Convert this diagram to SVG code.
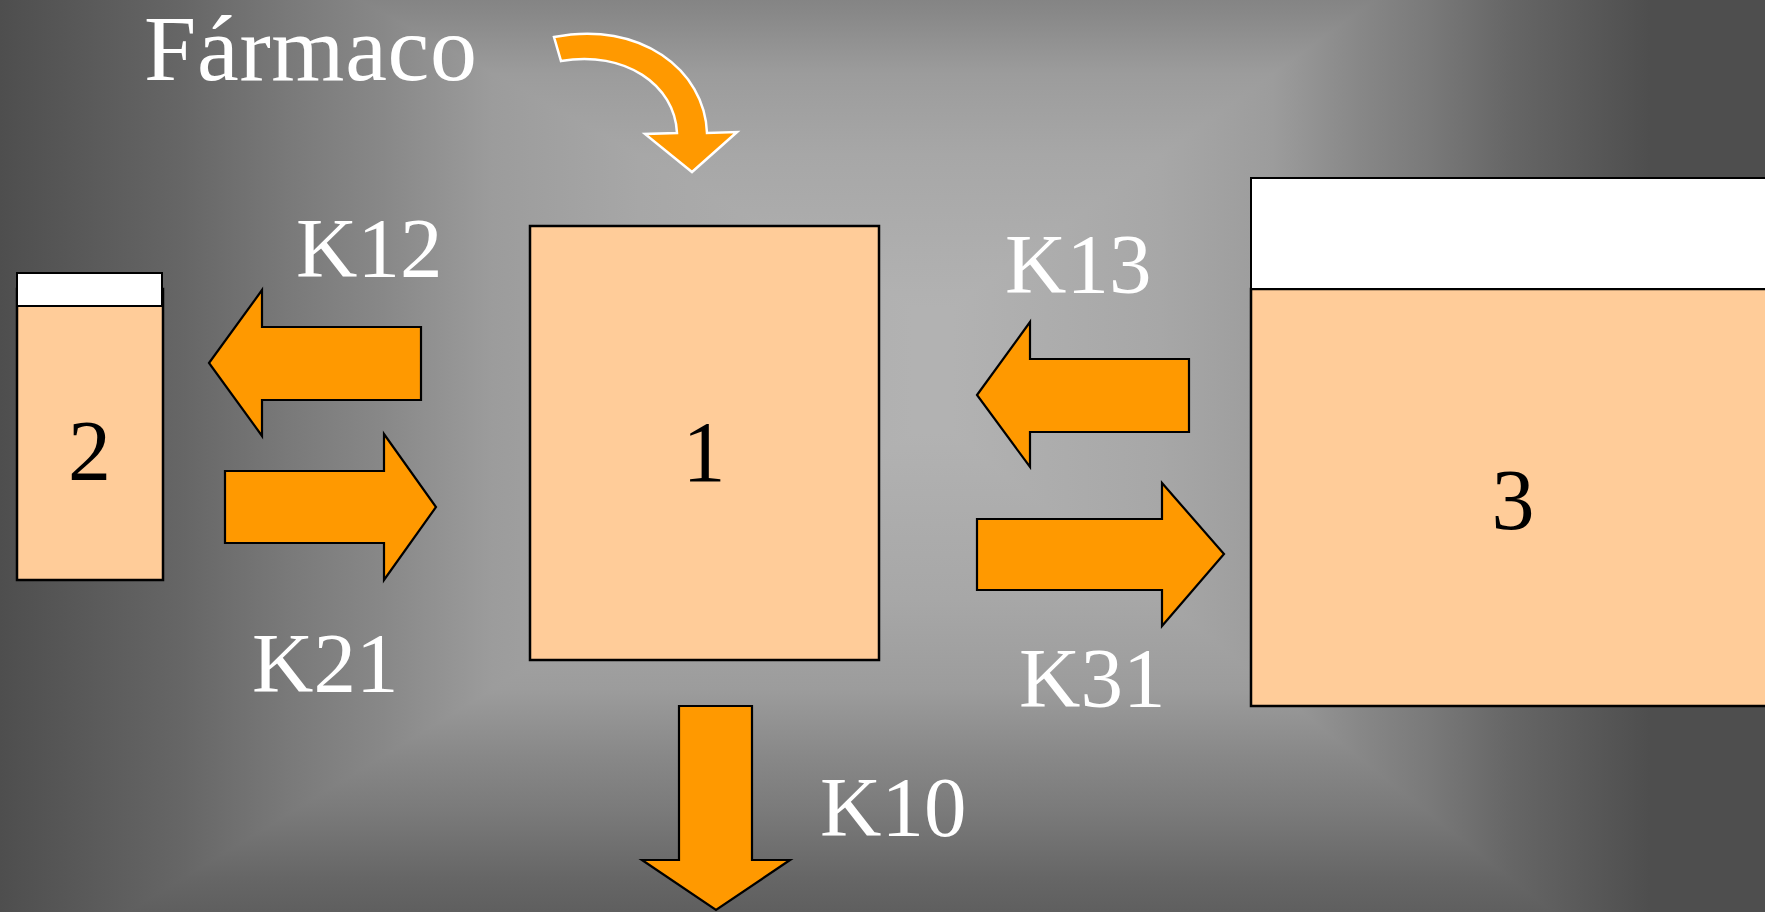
<svg xmlns="http://www.w3.org/2000/svg" xmlns:xlink="http://www.w3.org/1999/xlink" width="1765" height="912" viewBox="0 0 1765 912">
  <defs>
    <style>
      .comp { fill: #FFCC99; stroke: #000; stroke-width: 2.5; }
      .head { fill: #FFFFFF; stroke: #000; stroke-width: 2; }
      .flow { fill: #FF9900; stroke: #000; stroke-width: 2.2; stroke-linejoin: miter; }
      .dose { fill: #FF9900; stroke: #FFFFFF; stroke-width: 2.5; stroke-linejoin: miter; }
      .rate { font-family: "Liberation Serif", "Times New Roman", serif; font-size: 85px; fill: #FFFFFF; }
      .title { font-family: "Liberation Serif", "Times New Roman", serif; font-size: 94px; fill: #FFFFFF; }
      .num { font-family: "Liberation Serif", "Times New Roman", serif; font-size: 86px; fill: #000; text-anchor: middle; }
      .bg { shape-rendering: crispEdges; }
    </style>
    <!-- rectangular "from centre" background: one ramp per side, bright core to dark rim -->
    <linearGradient id="gLeft" gradientUnits="userSpaceOnUse" x1="913" y1="0" x2="0" y2="0">
      <stop offset="0" stop-color="#B2B2B2"/>
      <stop offset="0.3" stop-color="#A7A7A7"/>
      <stop offset="0.46" stop-color="#9C9C9C"/>
      <stop offset="0.58" stop-color="#888888"/>
      <stop offset="0.68" stop-color="#7A7A7A"/>
      <stop offset="0.8" stop-color="#666666"/>
      <stop offset="0.9" stop-color="#5A5A5A"/>
      <stop offset="1" stop-color="#4E4E4E"/>
    </linearGradient>
    <linearGradient id="gRight" xlink:href="#gLeft" gradientUnits="userSpaceOnUse" x1="952" y1="0" x2="1650" y2="0"/>
    <linearGradient id="gTop" xlink:href="#gLeft" gradientUnits="userSpaceOnUse" x1="0" y1="307" x2="0" y2="-200"/>
    <linearGradient id="gBottom" xlink:href="#gLeft" gradientUnits="userSpaceOnUse" x1="0" y1="433" x2="0" y2="990"/>
  </defs>

  <!-- background -->
  <g id="background">
    <rect x="0" y="0" width="1765" height="912" fill="#7A7A7A"/>
    <polygon class="bg" points="-913,-707 2348,-707 952,307 913,307" fill="url(#gTop)"/>
    <polygon class="bg" points="2348,-707 2348,1547 952,433 952,307" fill="url(#gRight)"/>
    <polygon class="bg" points="2348,1547 -913,1547 913,433 952,433" fill="url(#gBottom)"/>
    <polygon class="bg" points="-913,1547 -913,-707 913,307 913,433" fill="url(#gLeft)"/>
    <rect class="bg" x="913" y="307" width="39" height="126" fill="#B2B2B2"/>
  </g>

  <!-- dose label -->
  <g id="dose-label">
    <text class="title" x="144" y="80" textLength="333" lengthAdjust="spacing">Fármaco</text>
  </g>

  <!-- compartment 1 (central) -->
  <g id="compartment-1">
    <rect class="comp" x="530" y="226" width="349" height="434"/>
    <text class="num" x="704" y="481">1</text>
  </g>

  <!-- compartment 2 (peripheral, small) -->
  <g id="compartment-2">
    <rect class="comp" x="17" y="289" width="146" height="291"/>
    <rect class="head" x="17" y="273" width="145" height="33"/>
    <text class="num" x="89.5" y="480">2</text>
  </g>

  <!-- compartment 3 (peripheral, large) -->
  <g id="compartment-3">
    <rect class="comp" x="1251" y="289" width="600" height="417"/>
    <rect class="head" x="1251" y="178" width="600" height="111"/>
    <text class="num" x="1513" y="529">3</text>
  </g>

  <!-- transfer arrows -->
  <g id="connectors">
    <path id="dose-arrow" class="dose" d="M554,37 C640,20 705,70 707,133 L737,132 L692,172 L645,134 L677,133 C675,85 625,50 561,61 Z"/>
    <polygon id="k12-arrow" class="flow" points="209,363 262,290 262,327 421,327 421,400 262,400 262,436"/>
    <polygon id="k21-arrow" class="flow" points="225,471 384,471 384,434 436,507 384,580 384,543 225,543"/>
    <polygon id="k13-arrow" class="flow" points="977,395 1030,322 1030,359 1189,359 1189,432 1030,432 1030,467"/>
    <polygon id="k31-arrow" class="flow" points="977,519 1162,519 1162,483 1224,554 1162,626 1162,590 977,590"/>
    <polygon id="k10-arrow" class="flow" points="679,706 752,706 752,860 790,860 716,910 642,860 679,860"/>
  </g>

  <!-- rate constants -->
  <g id="rate-labels">
    <text class="rate" x="296" y="277">K12</text>
    <text class="rate" x="252" y="692">K21</text>
    <text class="rate" x="1005" y="293">K13</text>
    <text class="rate" x="1019" y="707">K31</text>
    <text class="rate" x="820" y="836">K10</text>
  </g>
</svg>
